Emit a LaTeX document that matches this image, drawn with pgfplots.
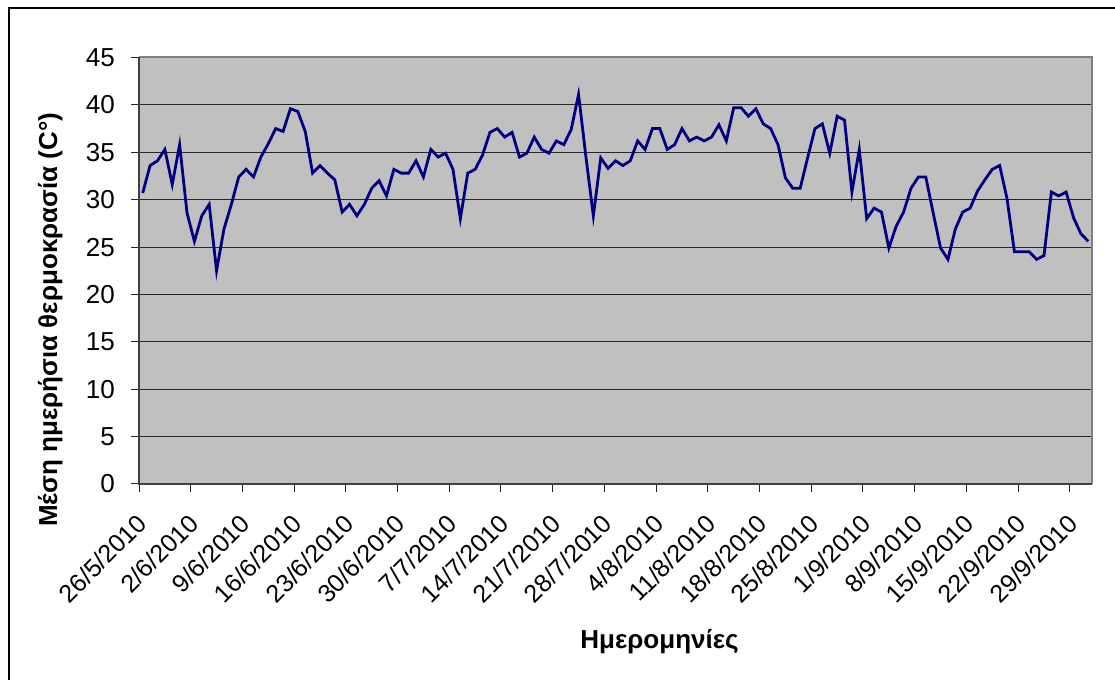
\documentclass[border=0pt]{standalone}
\usepackage{pgfplots}
\pgfplotsset{compat=1.18}
\usepackage{fontspec}
\setmainfont{Liberation Sans}
\definecolor{silverbg}{RGB}{192,192,192}
\definecolor{frameg}{RGB}{128,128,128}
\definecolor{navyline}{RGB}{0,0,128}
\begin{document}
\begin{tikzpicture}[x=1bp,y=1bp]
\useasboundingbox (0bp,0bp) rectangle (1115bp,680bp);
\draw[line width=1.3bp,black] (9bp,-20bp) -- (9bp,672bp) -- (1140bp,672bp);
\begin{axis}[
  at={(139bp,196bp)}, anchor=south west,
  scale only axis, width=953bp, height=426.5bp,
  xmin=0, xmax=129, ymin=0, ymax=45,
  axis background/.style={fill=silverbg},
  axis line style={draw=none},
  xtick={0,7,...,126},
  xticklabels={26/5/2010,2/6/2010,9/6/2010,16/6/2010,23/6/2010,30/6/2010,7/7/2010,14/7/2010,21/7/2010,28/7/2010,4/8/2010,11/8/2010,18/8/2010,25/8/2010,1/9/2010,8/9/2010,15/9/2010,22/9/2010,29/9/2010},
  ytick={0,5,...,45},
  xtick pos=left, ytick pos=left,
  tick align=outside, major tick length=8bp,
  tick style={black!85, line width=1bp},
  ymajorgrids, grid style={black!85, line width=1.1bp},
  /pgf/number format/assume math mode=true,
  yticklabel style={font=\fontsize{26bp}{30bp}\selectfont, anchor=east, inner sep=0pt, xshift=-16bp},
  xticklabel style={font=\fontsize{25bp}{29bp}\selectfont, xshift=3bp, yshift=-27bp, rotate=45, anchor=east, inner sep=0pt},
  clip=false,
]
\draw[frameg, line width=2bp] (rel axis cs:0,1) -- (rel axis cs:1,1) -- (rel axis cs:1,0);
\addplot[navyline, line width=2.8bp, mark=none] coordinates {
(0.5,30.7) (1.5,33.6) (2.5,34.1) (3.5,35.3) (4.5,31.6) (5.5,35.8) (6.5,28.6) (7.5,25.6) (8.5,28.3) (9.5,29.5)
(10.5,22.5) (11.5,26.9) (12.5,29.5) (13.5,32.4) (14.5,33.2) (15.5,32.4) (16.5,34.5) (17.5,35.9) (18.5,37.5) (19.5,37.2)
(20.5,39.6) (21.5,39.3) (22.5,37.2) (23.5,32.8) (24.5,33.6) (25.5,32.8) (26.5,32.1) (27.5,28.7) (28.5,29.5) (29.5,28.3)
(30.5,29.5) (31.5,31.2) (32.5,32.0) (33.5,30.4) (34.5,33.2) (35.5,32.8) (36.5,32.8) (37.5,34.1) (38.5,32.4) (39.5,35.3)
(40.5,34.5) (41.5,34.9) (42.5,33.2) (43.5,28.0) (44.5,32.8) (45.5,33.2) (46.5,34.7) (47.5,37.1) (48.5,37.5) (49.5,36.6)
(50.5,37.1) (51.5,34.5) (52.5,34.9) (53.5,36.6) (54.5,35.3) (55.5,34.9) (56.5,36.2) (57.5,35.8) (58.5,37.4) (59.5,41.1)
(60.5,34.5) (61.5,28.3) (62.5,34.4) (63.5,33.3) (64.5,34.1) (65.5,33.6) (66.5,34.1) (67.5,36.2) (68.5,35.3) (69.5,37.5)
(70.5,37.5) (71.5,35.3) (72.5,35.8) (73.5,37.5) (74.5,36.2) (75.5,36.6) (76.5,36.2) (77.5,36.6) (78.5,37.9) (79.5,36.2)
(80.5,39.7) (81.5,39.7) (82.5,38.8) (83.5,39.6) (84.5,38.0) (85.5,37.5) (86.5,35.8) (87.5,32.3) (88.5,31.2) (89.5,31.2)
(90.5,34.4) (91.5,37.5) (92.5,38.0) (93.5,34.9) (94.5,38.8) (95.5,38.4) (96.5,30.8) (97.5,35.3) (98.5,28.0) (99.5,29.1)
(100.5,28.7) (101.5,24.9) (102.5,27.2) (103.5,28.7) (104.5,31.2) (105.5,32.4) (106.5,32.4) (107.5,28.6) (108.5,24.9) (109.5,23.7)
(110.5,26.9) (111.5,28.7) (112.5,29.1) (113.5,30.9) (114.5,32.1) (115.5,33.2) (116.5,33.6) (117.5,30.1) (118.5,24.5) (119.5,24.5)
(120.5,24.5) (121.5,23.7) (122.5,24.1) (123.5,30.8) (124.5,30.4) (125.5,30.8) (126.5,28.1) (127.5,26.4) (128.5,25.6)
};
\draw[black!75, line width=2bp] (rel axis cs:0,1) -- (rel axis cs:0,0) -- (rel axis cs:1,0);
\end{axis}
\node[rotate=90, anchor=base west, inner sep=0pt, font=\bfseries\fontsize{26bp}{30bp}\selectfont] at (57bp,153bp) {Μέση ημερήσια θερμοκρασία (C°)};
\node[anchor=base, inner sep=0pt, font=\bfseries\fontsize{26bp}{30bp}\selectfont] at (659.5bp,32bp) {Ημερομηνίες};
\end{tikzpicture}
\end{document}
